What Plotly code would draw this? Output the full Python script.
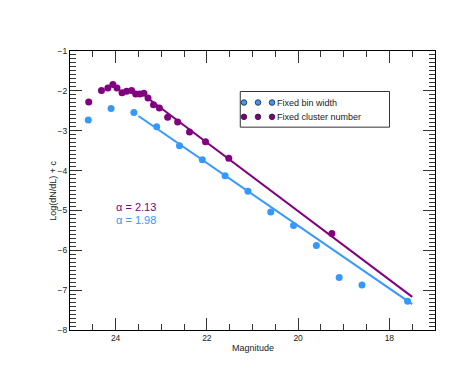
import plotly.graph_objects as go

# ---- data ----
mag_bin = [24.6, 24.1, 23.6, 23.1, 22.6, 22.1, 21.6, 21.1, 20.6, 20.1, 19.6, 19.1, 18.6, 17.6]
val_bin = [-2.73, -2.44, -2.54, -2.90, -3.38, -3.73, -4.13, -4.52, -5.04, -5.38, -5.88, -6.68, -6.87, -7.28]

mag_clu = [24.59, 24.31, 24.17, 24.06, 23.97, 23.86, 23.76, 23.65, 23.56, 23.47, 23.38,
           23.29, 23.17, 23.04, 22.86, 22.64, 22.38, 22.03, 21.52, 19.26]
val_clu = [-2.28, -1.99, -1.93, -1.84, -1.93, -2.05, -2.01, -1.99, -2.08, -2.08, -2.06,
           -2.18, -2.35, -2.43, -2.66, -2.78, -3.03, -3.28, -3.69, -5.58]

fit_bin_mag = [23.5, 17.5]
fit_bin_val = [-2.63, -7.35]
fit_clu_mag = [23.3, 17.5]
fit_clu_val = [-2.18, -7.17]

series_names = ["Fixed bin width", "Fixed cluster number"]
alpha_labels = ["α = 2.13", "α = 1.98"]

BLUE = "#3399ff"
PURPLE = "#800080"

W, H = 463, 371
L, R, T, B = 62.3, 426.7, 43.3, 321.7
PW, PH = R - L, B - T


def px(x):
    return (x - L) / PW


def py(y):
    return 1 - (y - T) / PH


fig = go.Figure()
fig.add_trace(go.Scatter(x=fit_bin_mag, y=fit_bin_val, mode="lines",
                         line=dict(color=BLUE, width=2), showlegend=False))
fig.add_trace(go.Scatter(x=fit_clu_mag, y=fit_clu_val, mode="lines",
                         line=dict(color=PURPLE, width=2), showlegend=False))
fig.add_trace(go.Scatter(x=mag_bin, y=val_bin, mode="markers",
                         marker=dict(color=BLUE, size=7, line=dict(width=0)),
                         name=series_names[0], showlegend=False))
fig.add_trace(go.Scatter(x=mag_clu, y=val_clu, mode="markers",
                         marker=dict(color=PURPLE, size=7, line=dict(width=0)),
                         name=series_names[1], showlegend=False))

axis_common = dict(
    showline=True, linecolor="black", linewidth=1, mirror="ticks",
    ticks="inside", ticklen=12, tickwidth=1, tickcolor="#333",
    showgrid=False, zeroline=False,
    tickfont=dict(family="Liberation Sans, Arial", size=8.5, color="#222"),
)

fig.update_layout(
    width=W, height=H,
    margin=dict(l=L, r=W - R, t=T, b=H - B),
    paper_bgcolor="white", plot_bgcolor="white",
    showlegend=False,
    xaxis=dict(range=[25, 17], dtick=2, tick0=0,
               minor=dict(dtick=0.5, tick0=0, ticks="inside", ticklen=6, tickcolor="#333"),
               **axis_common),
    yaxis=dict(range=[-8, -1], dtick=1, tick0=0,
               minor=dict(dtick=0.1, tick0=0, ticks="inside", ticklen=6, tickcolor="#333"),
               **axis_common),
)

font_txt = dict(family="Liberation Sans, Arial", size=9, color="#222")

annotations = [
    dict(x=0.5, y=py(340), xref="paper", yref="paper", text="Magnitude",
         showarrow=False, font=font_txt, xanchor="center", yanchor="middle"),
    dict(x=px(44.5), y=0.5, xref="paper", yref="paper", text="Log(dN/dL) + c",
         showarrow=False, font=font_txt, textangle=-90, xanchor="center", yanchor="middle"),
    dict(x=px(107), y=py(199), xref="paper", yref="paper", text=alpha_labels[0],
         showarrow=False, font=dict(family="Liberation Sans, Arial", size=11, color=PURPLE),
         xanchor="left", yanchor="middle", borderpad=0),
    dict(x=px(107), y=py(212), xref="paper", yref="paper", text=alpha_labels[1],
         showarrow=False, font=dict(family="Liberation Sans, Arial", size=11, color=BLUE),
         xanchor="left", yanchor="middle", borderpad=0),
    dict(x=px(267), y=py(94.7), xref="paper", yref="paper", text=series_names[0],
         showarrow=False, font=font_txt, xanchor="left", yanchor="middle"),
    dict(x=px(267), y=py(109), xref="paper", yref="paper", text=series_names[1],
         showarrow=False, font=font_txt, xanchor="left", yanchor="middle"),
]
fig.update_layout(annotations=annotations)

shapes = [dict(type="rect", xref="paper", yref="paper",
               x0=px(232.3), x1=px(381.3), y0=py(119.3), y1=py(83.7),
               line=dict(color="#333", width=1), fillcolor="rgba(0,0,0,0)")]
for row_y, col in [(94.7, BLUE), (109, PURPLE)]:
    for cx in [236, 250, 264]:
        shapes.append(dict(type="circle", xref="paper", yref="paper",
                           x0=px(cx - 2.8), x1=px(cx + 2.8),
                           y0=py(row_y + 2.8), y1=py(row_y - 2.8),
                           fillcolor=col, line=dict(color="#222", width=0.8)))
fig.update_layout(shapes=shapes)

fig.write_html("out.html")
